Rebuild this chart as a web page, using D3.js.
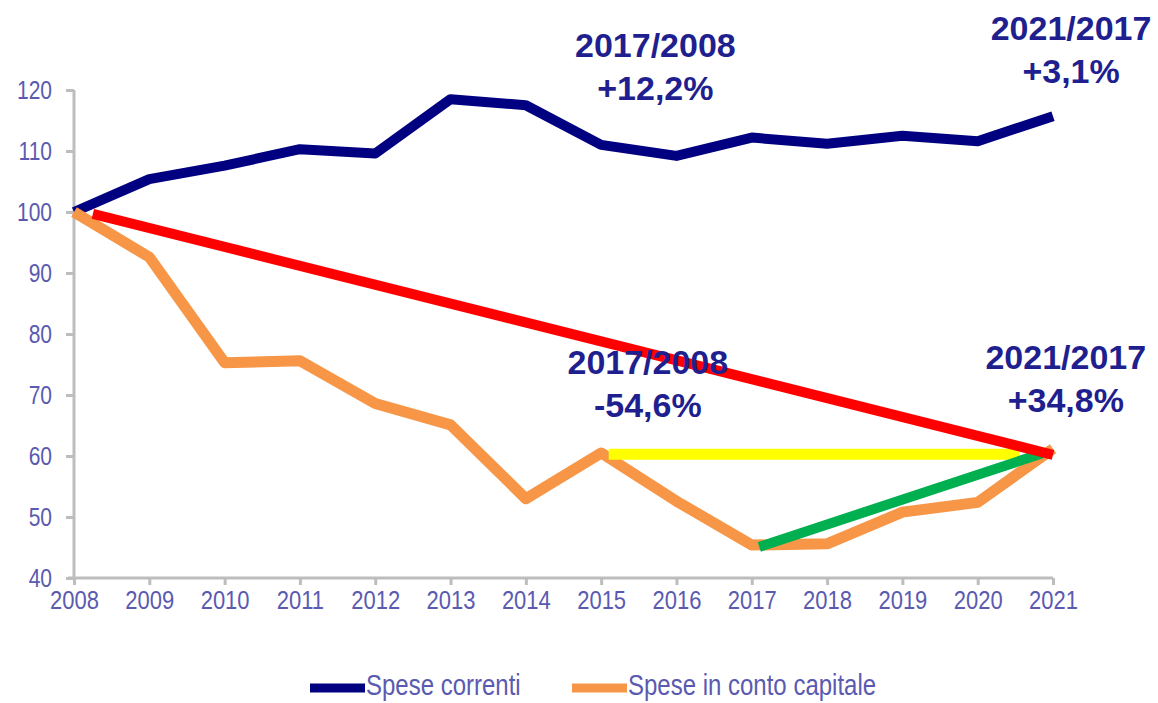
<!DOCTYPE html>
<html>
<head>
<meta charset="utf-8">
<script src="https://cdn.jsdelivr.net/npm/d3@7"></script>
<style>
  body { margin: 0; background: #fff; }
  svg { display: block; font-family: "Liberation Sans", Arial, sans-serif; }
</style>
</head>
<body>
<div id="chart"></div>
<script>
// data
const years = [2008, 2009, 2010, 2011, 2012, 2013, 2014, 2015, 2016, 2017, 2018, 2019, 2020, 2021];
const speseCorrenti = [100, 105.4, 107.6, 110.3, 109.6, 118.5, 117.5, 111, 109.2, 112.2, 111.2, 112.5, 111.6, 115.7];
const speseCapitale = [100, 92.6, 75.3, 75.6, 68.6, 65.1, 53.0, 60.5, 52.6, 45.4, 45.6, 50.8, 52.4, 61.2];
const yTicks = [40, 50, 60, 70, 80, 90, 100, 110, 120];
const seriesNames = ["Spese correnti", "Spese in conto capitale"];

// highlight segments [year, value]
const redSeg = [[2008.25, 99.7], [2021, 60.2]];
const yellowSeg = [[2015.1, 60.3], [2020.55, 60.3]];
const greenSeg = [[2017.1, 45.1], [2020.85, 60.4]];

const notes = [
  { x: 2015.72, y: 125.4, lines: ["2017/2008", "+12,2%"] },
  { x: 2021.24, y: 128.2, lines: ["2021/2017", "+3,1%"] },
  { x: 2015.62, y: 73.4, lines: ["2017/2008", "-54,6%"] },
  { x: 2021.17, y: 74.3, lines: ["2021/2017", "+34,8%"] }
];

const width = 1158, height = 703;
const svg = d3.select("#chart").append("svg")
  .attr("width", width)
  .attr("height", height);

const x = d3.scaleLinear().domain([2008, 2021]).range([74, 1053]);
const y = d3.scaleLinear().domain([40, 120]).range([578, 90]);

const axisColor = "#bdbdbd";
const labelColor = "#5a5ab0";
const stretch = 1.2; // labels in the picture look a bit tall

function tallText(sel) {
  sel.each(function () {
    const el = d3.select(this);
    const ty = +el.attr("y") || 0;
    el.attr("y", 0).attr("transform", "translate(0," + ty + ") scale(1," + stretch + ")");
  });
}

// y axis
const yAxis = svg.append("g")
  .attr("transform", "translate(74,0)")
  .call(d3.axisLeft(y).tickValues(yTicks).tickSize(8).tickPadding(14));
yAxis.select(".domain").attr("stroke", axisColor).attr("stroke-width", 3)
  .attr("d", "M0," + y(120) + "V" + y(40));
yAxis.selectAll(".tick line").attr("stroke", axisColor).attr("stroke-width", 3);
yAxis.selectAll(".tick text")
  .attr("fill", labelColor)
  .style("font-size", "21px")
  .call(tallText);

// x axis
const xAxis = svg.append("g")
  .attr("transform", "translate(0," + y(40) + ")")
  .call(d3.axisBottom(x).tickValues(years).tickFormat(d3.format("d")).tickSize(7).tickPadding(5));
xAxis.select(".domain").attr("stroke", axisColor).attr("stroke-width", 3)
  .attr("d", "M68,0H1053");
xAxis.selectAll(".tick line").attr("stroke", axisColor).attr("stroke-width", 3);
xAxis.selectAll(".tick text")
  .attr("fill", labelColor)
  .style("font-size", "22px")
  .call(tallText);

const line = d3.line()
  .x(d => x(d[0]))
  .y(d => y(d[1]));

svg.append("path")
  .attr("d", line(years.map((yr, i) => [yr, speseCorrenti[i]])))
  .attr("fill", "none")
  .attr("stroke", "#000080")
  .attr("stroke-width", 10)
  .attr("stroke-linejoin", "round");

svg.append("path")
  .attr("d", line(years.map((yr, i) => [yr, speseCapitale[i]])))
  .attr("fill", "none")
  .attr("stroke", "#f79646")
  .attr("stroke-width", 11)
  .attr("stroke-linejoin", "round");

svg.append("path").attr("d", line(yellowSeg))
  .attr("fill", "none").attr("stroke", "#ffff00").attr("stroke-width", 11);
svg.append("path").attr("d", line(greenSeg))
  .attr("fill", "none").attr("stroke", "#00b050").attr("stroke-width", 10);
svg.append("path").attr("d", line(redSeg))
  .attr("fill", "none").attr("stroke", "#ff0000").attr("stroke-width", 10);

// annotations
notes.forEach(n => {
  const t = svg.append("text")
    .attr("x", x(n.x))
    .attr("y", y(n.y))
    .attr("text-anchor", "middle")
    .attr("fill", "#1f1f8f")
    .style("font-size", "34px")
    .style("font-weight", "bold");
  n.lines.forEach((s, i) => {
    t.append("tspan").attr("x", x(n.x)).attr("dy", i ? 43 : 0).text(s);
  });
});

// legend
const legend = svg.append("g").attr("transform", "translate(0,688)");
const legendItems = [
  { name: seriesNames[0], color: "#000080", x0: 310 },
  { name: seriesNames[1], color: "#f79646", x0: 572 }
];
legendItems.forEach(d => {
  legend.append("line")
    .attr("x1", d.x0).attr("x2", d.x0 + 55)
    .attr("stroke", d.color).attr("stroke-width", 9);
  legend.append("text")
    .attr("x", d.x0 + 56)
    .attr("y", 0)
    .attr("transform", "translate(0,7) scale(1," + stretch + ")")
    .attr("fill", labelColor)
    .style("font-size", "24px")
    .text(d.name);
});
</script>
</body>
</html>
